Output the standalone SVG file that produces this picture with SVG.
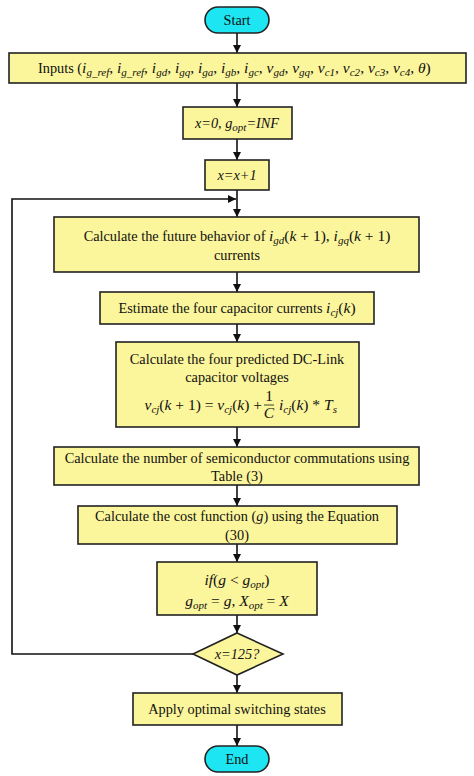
<svg xmlns="http://www.w3.org/2000/svg" width="474" height="776" viewBox="0 0 474 776">
<defs>
<marker id="ah" markerWidth="8" markerHeight="8" refX="8" refY="4" orient="auto" markerUnits="userSpaceOnUse">
<path d="M0,0 L8,4 L0,8 Z" fill="#111"/>
</marker>
<style>
.box{fill:#FBF59B;stroke:#222;stroke-width:1.6}
.term{fill:#1DE6F2;stroke:#222;stroke-width:1.6}
.t{font-family:"Liberation Serif",serif;font-size:14.3px;fill:#111;text-anchor:middle}
.m{font-family:"Liberation Serif",serif;font-size:15.5px;fill:#111}
.i{font-style:italic}
.s{font-size:11px}
.c line,.c polyline{stroke:#111;stroke-width:1.6;fill:none;marker-end:url(#ah)}
</style>
</defs>
<rect width="474" height="776" fill="#fff"/>
<g class="c" id="connectors">
<line x1="237" y1="33" x2="237" y2="53"/>
<line x1="237" y1="83" x2="237" y2="107"/>
<line x1="237" y1="139" x2="237" y2="160"/>
<line x1="237" y1="190" x2="237" y2="217"/>
<line x1="237" y1="272" x2="237" y2="292"/>
<line x1="237" y1="324" x2="237" y2="342"/>
<line x1="237" y1="427" x2="237" y2="447"/>
<line x1="237" y1="485" x2="237" y2="506"/>
<line x1="237" y1="544" x2="237" y2="562"/>
<line x1="237" y1="615" x2="237" y2="633"/>
<line x1="237" y1="675" x2="237" y2="693"/>
<line x1="237" y1="725" x2="237" y2="746"/>
<polyline points="193,654 12,654 12,199 236,199"/>
</g>
<g id="start">
<rect class="term" x="205" y="7" width="64" height="26" rx="13"/>
<text class="t" x="237" y="25">Start</text>
</g>
<g id="inputs">
<rect class="box" x="9" y="53" width="457" height="30"/>
<text class="m" x="38" y="73"><tspan font-size="14.3">Inputs (</tspan><tspan class="i">i</tspan><tspan class="i s" dy="3">g_ref</tspan><tspan dy="-3">, </tspan><tspan class="i">i</tspan><tspan class="i s" dy="3">g_ref</tspan><tspan dy="-3">, </tspan><tspan class="i">i</tspan><tspan class="i s" dy="3">gd</tspan><tspan dy="-3">, </tspan><tspan class="i">i</tspan><tspan class="i s" dy="3">gq</tspan><tspan dy="-3">, </tspan><tspan class="i">i</tspan><tspan class="i s" dy="3">ga</tspan><tspan dy="-3">, </tspan><tspan class="i">i</tspan><tspan class="i s" dy="3">gb</tspan><tspan dy="-3">, </tspan><tspan class="i">i</tspan><tspan class="i s" dy="3">gc</tspan><tspan dy="-3">, </tspan><tspan class="i">v</tspan><tspan class="i s" dy="3">gd</tspan><tspan dy="-3">, </tspan><tspan class="i">v</tspan><tspan class="i s" dy="3">gq</tspan><tspan dy="-3">, </tspan><tspan class="i">v</tspan><tspan class="i s" dy="3">c1</tspan><tspan dy="-3">, </tspan><tspan class="i">v</tspan><tspan class="i s" dy="3">c2</tspan><tspan dy="-3">, </tspan><tspan class="i">v</tspan><tspan class="i s" dy="3">c3</tspan><tspan dy="-3">, </tspan><tspan class="i">v</tspan><tspan class="i s" dy="3">c4</tspan><tspan dy="-3">, </tspan><tspan class="i">θ</tspan><tspan>)</tspan></text>
</g>
<g id="init">
<rect class="box" x="183" y="107" width="109" height="32"/>
<text class="t i" x="237" y="128">x=0, g<tspan class="s" dy="3">opt</tspan><tspan dy="-3">=INF</tspan></text>
</g>
<g id="incr">
<rect class="box" x="205" y="160" width="64" height="30"/>
<text class="t i" x="237" y="180">x=x+1</text>
</g>
<g id="future">
<rect class="box" x="54" y="217" width="365" height="55"/>
<text class="t" x="237" y="241">Calculate the future behavior of <tspan class="i" font-size="15.5">i</tspan><tspan class="i s" dy="3">gd</tspan><tspan dy="-3" font-size="15.5">(</tspan><tspan class="i" font-size="15.5">k</tspan><tspan font-size="15.5"> + 1), </tspan><tspan class="i" font-size="15.5">i</tspan><tspan class="i s" dy="3">gq</tspan><tspan dy="-3" font-size="15.5">(</tspan><tspan class="i" font-size="15.5">k</tspan><tspan font-size="15.5"> + 1)</tspan></text>
<text class="t" x="237" y="260">currents</text>
</g>
<g id="estimate">
<rect class="box" x="100" y="292" width="274" height="32"/>
<text class="t" x="237" y="313">Estimate the four capacitor currents  <tspan class="i" font-size="15.5">i</tspan><tspan class="i s" dy="3">cj</tspan><tspan dy="-3" font-size="15.5">(</tspan><tspan class="i" font-size="15.5">k</tspan><tspan font-size="15.5">)</tspan></text>
</g>
<g id="dclink">
<rect class="box" x="116" y="342" width="243" height="85"/>
<text class="t" x="237" y="364">Calculate the four predicted DC-Link</text>
<text class="t" x="237" y="382">capacitor voltages</text>
<text class="m" x="262" y="410" text-anchor="end" font-size="16.5"><tspan class="i">v</tspan><tspan class="i s" dy="3">cj</tspan><tspan dy="-3">(</tspan><tspan class="i">k</tspan><tspan> + 1) = </tspan><tspan class="i">v</tspan><tspan class="i s" dy="3">cj</tspan><tspan dy="-3">(</tspan><tspan class="i">k</tspan><tspan>) +</tspan></text>
<text class="m" x="269" y="401" text-anchor="middle" font-size="13">1</text>
<line x1="264" y1="405" x2="274" y2="405" stroke="#111" stroke-width="0.8"/>
<text class="m i" x="269" y="418" text-anchor="middle" font-size="13">C</text>
<text class="m" x="279" y="410" font-size="16.5"><tspan class="i">i</tspan><tspan class="i s" dy="3">cj</tspan><tspan dy="-3">(</tspan><tspan class="i">k</tspan><tspan>) * </tspan><tspan class="i">T</tspan><tspan class="i s" dy="3">s</tspan></text>
</g>
<g id="commutations">
<rect class="box" x="54" y="447" width="365" height="38"/>
<text class="t" x="237" y="463">Calculate the number of semiconductor commutations using</text>
<text class="t" x="237" y="481">Table (3)</text>
</g>
<g id="cost">
<rect class="box" x="78" y="506" width="319" height="38"/>
<text class="t" x="237" y="521">Calculate the cost function (<tspan class="i">g</tspan>) using the Equation</text>
<text class="t" x="237" y="540">(30)</text>
</g>
<g id="ifbox">
<rect class="box" x="157" y="562" width="160" height="53"/>
<text class="m" x="237" y="585" text-anchor="middle" font-size="16.5"><tspan class="i">if</tspan><tspan>(</tspan><tspan class="i">g</tspan><tspan> &lt; </tspan><tspan class="i">g</tspan><tspan class="i s" dy="3">opt</tspan><tspan dy="-3">)</tspan></text>
<text class="m" x="237" y="606" text-anchor="middle" font-size="16.5"><tspan class="i">g</tspan><tspan class="i s" dy="3">opt</tspan><tspan dy="-3"> = </tspan><tspan class="i">g</tspan><tspan>, </tspan><tspan class="i">X</tspan><tspan class="i s" dy="3">opt</tspan><tspan dy="-3"> = </tspan><tspan class="i">X</tspan></text>
</g>
<g id="decision">
<polygon class="box" points="237,633 283,654 237,675 193,654"/>
<text class="t i" x="237" y="659">x=125?</text>
</g>
<g id="apply">
<rect class="box" x="133" y="693" width="209" height="32"/>
<text class="t" x="237" y="714">Apply optimal switching states</text>
</g>
<g id="end">
<rect class="term" x="205" y="746" width="64" height="26" rx="13"/>
<text class="t" x="237" y="764">End</text>
</g>
</svg>
